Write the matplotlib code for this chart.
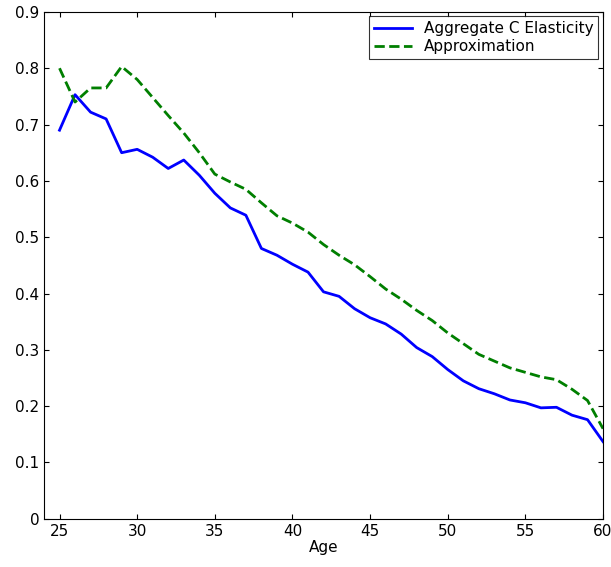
import matplotlib
matplotlib.use("Agg")
import matplotlib.pyplot as plt

age = list(range(25, 61))
elasticity = [0.690, 0.753, 0.722, 0.710, 0.650, 0.656, 0.642, 0.622, 0.637, 0.610,
              0.578, 0.552, 0.539, 0.480, 0.468, 0.452, 0.438, 0.403, 0.395, 0.373,
              0.357, 0.346, 0.328, 0.304, 0.288, 0.265, 0.245, 0.231, 0.222, 0.211,
              0.206, 0.197, 0.198, 0.184, 0.176, 0.137]
approx = [0.800, 0.740, 0.765, 0.765, 0.803, 0.780, 0.748, 0.716, 0.685, 0.650,
          0.612, 0.598, 0.585, 0.561, 0.538, 0.525, 0.509, 0.487, 0.468, 0.451,
          0.430, 0.408, 0.390, 0.370, 0.352, 0.330, 0.311, 0.292, 0.280, 0.268,
          0.260, 0.252, 0.247, 0.230, 0.210, 0.160]

fig = plt.figure(figsize=(6.11, 5.67), dpi=100)
ax = fig.add_axes([0.072, 0.085, 0.915, 0.894])
ax.plot(age, elasticity, color="#0000ff", lw=2, label="Aggregate C Elasticity")
ax.plot(age, approx, color="#007f00", lw=2, ls="--", label="Approximation")
ax.set_xlim(24, 60)
ax.set_ylim(0, 0.9)
ax.set_xticks(range(25, 61, 5))
ax.set_yticks([i / 10 for i in range(10)])
ax.set_yticklabels(["0"] + [f"{i/10:.1f}" for i in range(1, 10)])
ax.tick_params(direction="in", top=True, right=True, labelsize=11)
ax.set_xlabel("Age", fontsize=11, labelpad=1)
leg = ax.legend(loc="upper right", fontsize=11, fancybox=False, edgecolor="black",
                borderpad=0.3, handlelength=2.5, labelspacing=0.2, borderaxespad=0.3)
leg.get_frame().set_linewidth(0.8)
fig.savefig("out.png", dpi=100, facecolor="white")
